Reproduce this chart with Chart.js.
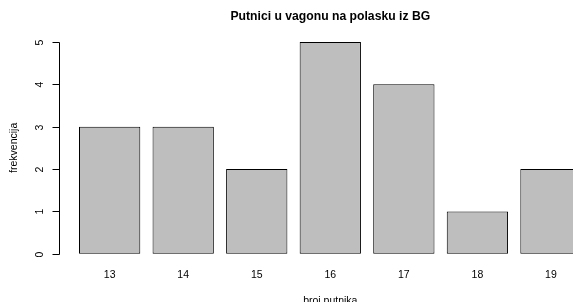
<!DOCTYPE html>
<html><head><meta charset="utf-8">
<script src="https://cdn.jsdelivr.net/npm/chart.js@4/dist/chart.umd.min.js"></script>
<style>
html,body{margin:0;padding:0;background:#fff;overflow:hidden;width:573px;height:302px}
#wrap{position:relative;width:660px;height:302px}
</style></head><body>
<div id="wrap"><canvas id="c" width="660" height="302"></canvas></div>
<script>
const categories = ["13","14","15","16","17","18","19"];
const frequencies = [3,3,2,5,4,1,2];
const yTicks = [0,1,2,3,4,5];
const titleText = "Putnici u vagonu na polasku iz BG";
const xTitle = "broj putnika";
const yTitle = "frekvencija";

const points = categories.map((c,i)=>({x:0.7+1.2*i, y:frequencies[i]}));
const FONT = '"Liberation Sans", Arial, Helvetica, sans-serif';

const rAxes = {
  id:'rAxes',
  afterDraw(chart){
    const ctx = chart.ctx, xs = chart.scales.x, ys = chart.scales.y, a = chart.chartArea;
    ctx.save();
    ctx.strokeStyle = '#000'; ctx.lineWidth = 1; ctx.fillStyle = '#000';
    const ax = Math.round(xs.getPixelForValue(-0.128)) + 0.5;
    const y0 = ys.getPixelForValue(yTicks[0]), y1 = ys.getPixelForValue(yTicks[yTicks.length-1]);
    ctx.beginPath(); ctx.moveTo(ax, Math.round(y0)+0.5); ctx.lineTo(ax, Math.round(y1)+0.5); ctx.stroke();
    ctx.font = '10.5px ' + FONT;
    yTicks.forEach(t=>{
      const py = Math.round(ys.getPixelForValue(t))+0.5;
      ctx.beginPath(); ctx.moveTo(ax-7, py); ctx.lineTo(ax, py); ctx.stroke();
      ctx.save(); ctx.translate(ax-19, py); ctx.rotate(-Math.PI/2);
      ctx.textAlign='center'; ctx.textBaseline='middle'; ctx.fillText(String(t),0,0); ctx.restore();
    });
    categories.forEach((c,i)=>{
      const px = xs.getPixelForValue(points[i].x);
      ctx.textAlign='center'; ctx.textBaseline='middle'; ctx.fillText(c, px, 275.5);
    });
    const cx = (a.left + a.right)/2;
    ctx.fillText(xTitle, cx, 301);
    ctx.save(); ctx.translate(14, (a.top+a.bottom)/2); ctx.rotate(-Math.PI/2);
    ctx.fillText(yTitle, 0, 0); ctx.restore();
    ctx.font = 'bold 12.2px ' + FONT;
    ctx.fillText(titleText, cx, 16.5);
    ctx.restore();
  }
};

new Chart(document.getElementById('c'), {
  type:'bar',
  data:{datasets:[{data:points, backgroundColor:'#bebebe', borderColor:'#000', borderWidth:1, borderSkipped:false,
    barPercentage:1/1.2, categoryPercentage:1}]},
  options:{
    responsive:false, animation:false, devicePixelRatio:1,
    layout:{padding:{left:58.9, right:58.3, top:33.5, bottom:39.8}},
    plugins:{legend:{display:false}, tooltip:{enabled:false}, title:{display:false}},
    scales:{
      x:{type:'linear', min:-0.128, max:8.728, offset:false, display:false,
         afterBuildTicks(scale){ scale.ticks = points.map(p=>({value:p.x})); }},
      y:{type:'linear', min:-0.2, max:5.2, display:false}
    }
  },
  plugins:[rAxes]
});
</script></body></html>
